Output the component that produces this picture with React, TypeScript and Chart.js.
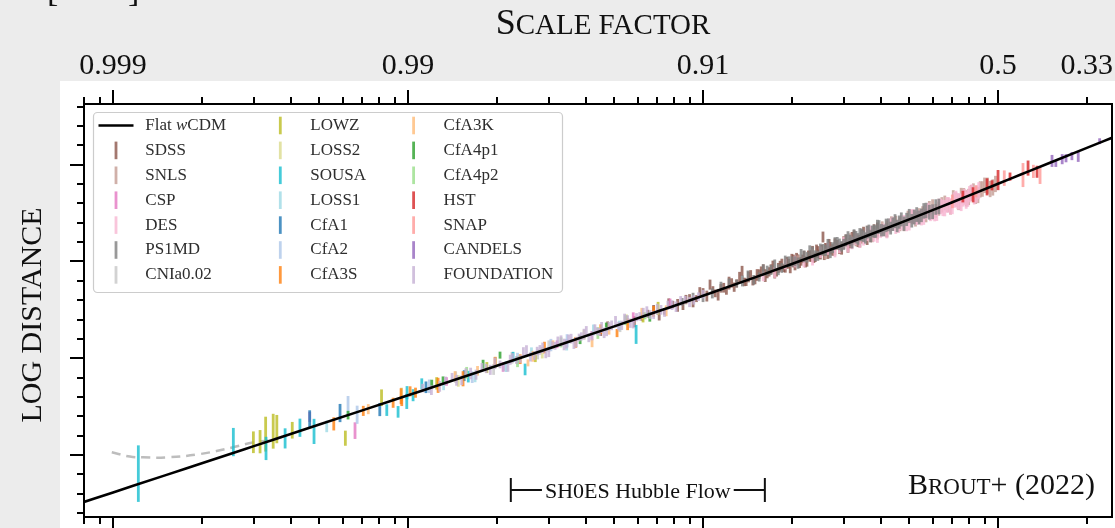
import React, { useEffect, useRef } from "react";
import { Chart, registerables } from "chart.js";

Chart.register(...registerables);

const W = 1115;
const H = 528;
const SERIF = '"Liberation Serif", "DejaVu Serif", serif';

// ---------- axes ----------
const Z_MIN = 0.000797;
const Z_MAX = 2.434;
const MU_MIN = 26.8;
const MU_MAX = 48.13;
const TOP_TICK_Z = [0.001, 0.01, 0.1, 1, 2];
const TOP_TICK_LABELS = ["0.999", "0.99", "0.91", "0.5", "0.33"];
const X_TITLE = ["S", "CALE FACTOR"];
const Y_TITLE = "LOG DISTANCE";
const CREDIT = ["B", "ROUT", "+ (2022)"];
const HUBBLE_FLOW_Z = [0.0223, 0.162];
const HUBBLE_FLOW_LABEL = "SH0ES Hubble Flow";

// ---------- model curve (Flat wCDM) ----------
const MODEL_LABEL = "Flat wCDM";
const MODEL_Z = [0.000797, 0.001, 0.0015, 0.002, 0.003, 0.004, 0.005, 0.007, 0.01, 0.014, 0.02, 0.03, 0.05, 0.07, 0.1, 0.15, 0.2, 0.3, 0.4, 0.5, 0.6, 0.7, 0.8, 1.0, 1.2, 1.5, 2.0, 2.434];
const MODEL_MU = [27.577, 28.07, 28.95, 29.578, 30.461, 31.087, 31.573, 32.307, 33.087, 33.823, 34.609, 35.506, 36.645, 37.41, 38.224, 39.175, 39.865, 40.864, 41.593, 42.17, 42.648, 43.056, 43.411, 44.009, 44.499, 45.098, 45.866, 46.385];

// ---------- grey dashed low-z curve ----------
const DASH_Z = [0.00099, 0.00114, 0.00126, 0.00152, 0.00197, 0.00255, 0.00298, 0.0034, 0.0038];
const DASH_MU = [30.14, 29.92, 29.88, 29.88, 30.05, 30.4, 30.65, 30.77, 30.975];

// ---------- survey data: [z, mu, sigma_mu] ----------
const SDSS = [
  [0.045, 36.31, 0.16], [0.055, 37.01, 0.18], [0.062, 37.09, 0.15], [0.068, 37.55, 0.2], [0.074, 37.42, 0.17],
  [0.079, 37.77, 0.19], [0.0855, 37.65, 0.16], [0.09, 38.11, 0.2], [0.095, 38.08, 0.18], [0.1, 38.4, 0.22],
  [0.1056, 38.8, 0.26], [0.11, 38.35, 0.2], [0.115, 38.61, 0.22], [0.12, 38.47, 0.19], [0.125, 38.89, 0.24],
  [0.13, 38.86, 0.21], [0.1356, 39.51, 0.26], [0.14, 38.93, 0.2], [0.145, 39.3, 0.25], [0.15, 39.04, 0.22],
  [0.155, 39.35, 0.24], [0.16, 39.58, 0.27], [0.165, 39.34, 0.21], [0.17, 39.6, 0.25], [0.175, 39.35, 0.23],
  [0.18, 39.66, 0.26], [0.185, 39.86, 0.28], [0.19, 39.64, 0.22], [0.195, 39.88, 0.25], [0.2, 40.09, 0.3],
  [0.205, 39.78, 0.24], [0.21, 40.09, 0.27], [0.215, 40.0, 0.22], [0.22, 40.26, 0.29], [0.225, 39.98, 0.25],
  [0.23, 40.27, 0.28], [0.235, 40.5, 0.3], [0.24, 40.21, 0.24], [0.245, 40.49, 0.3], [0.25, 40.36, 0.26],
  [0.255, 41.26, 0.28], [0.26, 40.65, 0.3], [0.265, 40.4, 0.27], [0.27, 40.68, 0.32], [0.28, 40.89, 0.3],
  [0.29, 40.66, 0.28], [0.3, 40.96, 0.33], [0.31, 40.75, 0.3], [0.32, 41.18, 0.34], [0.33, 41.13, 0.3],
  [0.34, 41.04, 0.32], [0.35, 41.44, 0.35], [0.37, 41.32, 0.33], [0.39, 41.65, 0.36], [0.42, 41.62, 0.38],
  [0.0475, 36.68, 0.22], [0.0585, 36.88, 0.28], [0.065, 37.3, 0.2], [0.071, 37.25, 0.3], [0.0765, 37.84, 0.25],
  [0.082, 37.73, 0.33], [0.0875, 38.03, 0.24], [0.0925, 37.9, 0.27], [0.0975, 38.45, 0.22], [0.103, 38.21, 0.28],
  [0.108, 38.52, 0.2], [0.1125, 38.28, 0.3], [0.1175, 38.64, 0.25], [0.1225, 38.88, 0.33], [0.1275, 38.67, 0.24],
  [0.133, 39.19, 0.27], [0.138, 38.94, 0.22], [0.1425, 39.2, 0.28], [0.1475, 38.96, 0.2], [0.1525, 39.3, 0.3],
  [0.1575, 39.49, 0.25], [0.1625, 39.27, 0.33], [0.1675, 39.46, 0.24], [0.1725, 39.77, 0.27], [0.1775, 39.44, 0.22],
  [0.1825, 39.75, 0.28], [0.1875, 39.65, 0.2], [0.1925, 39.93, 0.3], [0.1975, 39.64, 0.25], [0.2025, 40.02, 0.33],
  [0.2075, 40.2, 0.24], [0.2125, 39.93, 0.27], [0.2175, 40.13, 0.22], [0.2225, 39.97, 0.28], [0.2275, 40.36, 0.2],
  [0.2325, 40.28, 0.3], [0.2375, 40.17, 0.25], [0.2425, 40.54, 0.33], [0.2475, 40.37, 0.24], [0.2525, 40.58, 0.27],
  [0.2575, 40.29, 0.22], [0.2625, 40.64, 0.28], [0.2675, 40.86, 0.3], [0.275, 40.59, 0.3], [0.285, 40.86, 0.25],
  [0.295, 40.68, 0.33], [0.305, 41.09, 0.3], [0.315, 40.95, 0.27], [0.325, 41.29, 0.32], [0.335, 41.04, 0.3],
  [0.345, 41.3, 0.35], [0.36, 41.17, 0.32], [0.38, 41.56, 0.36],
];
const SNLS = [
  [0.21, 40.07, 0.25], [0.26, 40.39, 0.28], [0.3, 41.01, 0.3], [0.33, 41.06, 0.28], [0.36, 41.53, 0.32],
  [0.39, 41.43, 0.3], [0.42, 41.78, 0.34], [0.45, 42.04, 0.32], [0.48, 41.91, 0.35], [0.51, 42.32, 0.34],
  [0.54, 42.39, 0.36], [0.57, 42.37, 0.35], [0.6, 42.83, 0.38], [0.63, 42.72, 0.36], [0.66, 43.02, 0.38],
  [0.69, 42.82, 0.4], [0.72, 43.18, 0.38], [0.75, 43.4, 0.4], [0.78, 43.26, 0.42], [0.81, 43.54, 0.4],
  [0.84, 43.39, 0.42], [0.87, 43.72, 0.42], [0.9, 43.93, 0.4], [0.94, 43.74, 0.42], [0.98, 44.0, 0.42],
  [0.235, 40.38, 0.26], [0.28, 40.61, 0.3], [0.315, 41.17, 0.28], [0.345, 41.24, 0.33], [0.375, 41.29, 0.3],
  [0.405, 41.73, 0.34], [0.435, 42.01, 0.32], [0.465, 41.92, 0.36], [0.495, 42.28, 0.34], [0.525, 42.18, 0.38],
  [0.555, 42.5, 0.35], [0.585, 42.74, 0.38], [0.615, 42.61, 0.36], [0.645, 42.92, 0.4], [0.675, 42.92, 0.38],
  [0.705, 43.28, 0.4], [0.735, 43.07, 0.42], [0.765, 43.39, 0.4], [0.795, 43.33, 0.42], [0.825, 43.63, 0.4],
  [0.855, 43.43, 0.42], [0.885, 43.74, 0.4], [0.92, 43.91, 0.42], [0.96, 43.82, 0.42],
];
const CSP = [
  [0.00464, 31.97, 0.26], [0.00661, 31.26, 0.43], [0.0135, 33.8, 0.22], [0.021, 34.55, 0.25],
  [0.032, 35.72, 0.2], [0.042, 36.18, 0.22], [0.058, 37.12, 0.25], [0.0773, 37.82, 0.26],
];
const DES = [
  [0.16, 39.23, 0.25], [0.19, 39.86, 0.27], [0.22, 39.95, 0.26], [0.25, 40.47, 0.3], [0.28, 40.49, 0.28],
  [0.3, 40.96, 0.3], [0.32, 40.95, 0.32], [0.34, 41.0, 0.3], [0.36, 41.39, 0.34], [0.38, 41.34, 0.32],
  [0.4, 41.57, 0.35], [0.42, 41.52, 0.33], [0.44, 41.94, 0.36], [0.46, 41.81, 0.34], [0.48, 42.02, 0.38],
  [0.5, 41.95, 0.35], [0.52, 42.31, 0.38], [0.54, 42.27, 0.36], [0.56, 42.29, 0.4], [0.58, 42.64, 0.38],
  [0.6, 42.53, 0.4], [0.62, 42.49, 0.4], [0.64, 42.84, 0.4], [0.66, 42.75, 0.42], [0.68, 42.92, 0.4],
  [0.7, 42.86, 0.42], [0.72, 43.23, 0.42], [0.74, 43.1, 0.42], [0.76, 43.25, 0.42], [0.78, 43.16, 0.44],
  [0.8, 43.47, 0.42], [0.83, 43.39, 0.45], [0.86, 43.65, 0.44],
  [0.175, 39.43, 0.28], [0.205, 39.99, 0.3], [0.235, 40.06, 0.27], [0.265, 40.66, 0.32], [0.29, 40.72, 0.3],
  [0.31, 40.79, 0.33], [0.33, 41.15, 0.3], [0.35, 41.16, 0.34], [0.37, 41.52, 0.32], [0.39, 41.31, 0.35],
  [0.41, 41.62, 0.33], [0.43, 41.86, 0.36], [0.45, 41.76, 0.34], [0.47, 41.99, 0.38], [0.49, 41.92, 0.36],
  [0.51, 42.32, 0.38], [0.53, 42.24, 0.36], [0.55, 42.26, 0.4], [0.57, 42.55, 0.38], [0.59, 42.48, 0.4],
  [0.61, 42.45, 0.38], [0.63, 42.84, 0.4], [0.65, 42.76, 0.42], [0.67, 42.92, 0.4], [0.69, 42.84, 0.42],
  [0.71, 43.17, 0.4], [0.73, 43.11, 0.42], [0.75, 43.04, 0.44], [0.77, 43.33, 0.42], [0.79, 43.26, 0.44],
  [0.815, 43.56, 0.42], [0.845, 43.48, 0.45],
];
const PS1MD = [
  [0.085, 37.91, 0.2], [0.1, 38.12, 0.22], [0.115, 38.7, 0.25], [0.13, 38.86, 0.2], [0.142, 39.25, 0.28],
  [0.155, 39.2, 0.24], [0.165, 39.52, 0.26], [0.175, 39.8, 0.3], [0.185, 39.66, 0.25], [0.195, 39.98, 0.28],
  [0.205, 40.01, 0.26], [0.215, 40.34, 0.3], [0.225, 40.21, 0.27], [0.235, 40.46, 0.3], [0.245, 40.29, 0.26],
  [0.255, 40.61, 0.29], [0.265, 40.84, 0.32], [0.275, 40.71, 0.28], [0.285, 40.96, 0.3], [0.295, 40.78, 0.27],
  [0.305, 41.09, 0.31], [0.315, 41.09, 0.28], [0.325, 41.33, 0.33], [0.335, 41.16, 0.3], [0.345, 41.38, 0.32],
  [0.355, 41.21, 0.29], [0.365, 41.56, 0.34], [0.375, 41.55, 0.3], [0.385, 41.54, 0.32], [0.395, 41.78, 0.35],
  [0.41, 41.6, 0.3], [0.425, 41.89, 0.33], [0.44, 41.92, 0.35], [0.455, 41.83, 0.32], [0.47, 42.17, 0.36],
  [0.49, 42.17, 0.34], [0.51, 42.1, 0.35], [0.53, 42.42, 0.38], [0.55, 42.38, 0.35], [0.57, 42.63, 0.4],
  [0.6, 42.57, 0.38], [0.63, 42.84, 0.4],
  [0.0925, 38.16, 0.22], [0.1075, 38.35, 0.26], [0.1225, 38.88, 0.24], [0.136, 38.99, 0.28], [0.1485, 39.05, 0.25],
  [0.16, 39.55, 0.3], [0.17, 39.56, 0.26], [0.18, 39.57, 0.28], [0.19, 40.0, 0.3], [0.2, 39.99, 0.27],
  [0.21, 39.91, 0.29], [0.22, 40.26, 0.3], [0.23, 40.51, 0.32], [0.24, 40.29, 0.28], [0.25, 40.62, 0.3],
  [0.26, 40.57, 0.29], [0.27, 40.48, 0.31], [0.28, 40.93, 0.32], [0.29, 40.88, 0.3], [0.3, 40.88, 0.28],
  [0.31, 41.23, 0.33], [0.32, 40.97, 0.3], [0.33, 41.25, 0.32], [0.34, 41.38, 0.34], [0.35, 41.3, 0.3],
  [0.36, 41.51, 0.33], [0.37, 41.3, 0.31], [0.38, 41.56, 0.34], [0.39, 41.79, 0.36], [0.4025, 41.61, 0.32],
  [0.4175, 41.86, 0.35], [0.4325, 41.72, 0.33], [0.4475, 42.08, 0.36], [0.4625, 42.03, 0.34], [0.48, 41.95, 0.37],
  [0.5, 42.35, 0.36], [0.52, 42.29, 0.38], [0.54, 42.27, 0.36], [0.56, 42.61, 0.4], [0.585, 42.54, 0.38],
  [0.615, 42.81, 0.4],
];
const CNIA002 = [
  [0.0145, 34.02, 0.3], [0.0195, 34.42, 0.28], [0.0225, 35.02, 0.3], [0.0275, 35.2, 0.26], [0.03, 35.62, 0.3], [0.0523, 36.61, 0.26],
];
const LOWZ = [
  [0.00299, 30.66, 0.56], [0.00315, 30.69, 0.6], [0.00329, 31.08, 0.9], [0.00349, 31.23, 0.9], [0.00359, 31.34, 0.73],
  [0.00405, 31.28, 0.43], [0.00613, 30.87, 0.39], [0.00813, 32.96, 0.43], [0.0125, 33.7, 0.32], [0.0185, 34.52, 0.28],
  [0.027, 35.05, 0.25], [0.0626, 37.11, 0.26], [0.0704, 37.57, 0.34],
];
const LOSS2 = [
  [0.0095, 33.13, 0.35], [0.0148, 33.83, 0.3], [0.0198, 34.79, 0.28], [0.0285, 35.29, 0.3], [0.0395, 36.22, 0.25], [0.055, 36.98, 0.28],
];
const SOUSA = [
  [0.001218, 29.04, 1.46], [0.002557, 30.67, 0.73], [0.0033, 30.34, 0.6], [0.00383, 30.86, 0.52], [0.0043, 31.41, 0.47],
  [0.0048, 31.22, 0.65], [0.00847, 32.32, 0.3], [0.00925, 32.23, 0.3], [0.0099, 32.77, 0.39], [0.00992, 33.22, 0.34],
  [0.0104, 33.09, 0.31], [0.01113, 33.68, 0.28], [0.016, 34.05, 0.3], [0.0227, 35.07, 0.26], [0.02493, 34.42, 0.3],
  [0.0593, 36.23, 0.49],
];
const LOSS1 = [
  [0.0053, 31.48, 0.3], [0.0132, 33.6, 0.25], [0.01687, 34.02, 0.26], [0.0215, 34.57, 0.28], [0.0262, 35.31, 0.25],
  [0.0345, 35.7, 0.3], [0.0425, 36.46, 0.28], [0.052, 36.69, 0.25],
];
const CFA1 = [
  [0.00464, 31.88, 0.43], [0.00588, 32.17, 0.47], [0.00802, 32.35, 0.34], [0.0115, 33.5, 0.3], [0.0155, 34.1, 0.28],
];
const CFA2 = [
  [0.00626, 32.58, 0.47], [0.00672, 32.08, 0.47], [0.0118, 33.55, 0.35], [0.0165, 34.02, 0.3], [0.0235, 34.98, 0.3],
  [0.0305, 35.68, 0.32], [0.0346, 35.9, 0.34],
];
const CFA3S = [
  [0.0056, 31.61, 0.34], [0.00705, 32.28, 0.26], [0.0089, 32.7, 0.26], [0.00947, 33.04, 0.41], [0.00952, 32.79, 0.26],
  [0.01016, 33.29, 0.26], [0.0106, 33.22, 0.26], [0.01264, 33.6, 0.39], [0.01536, 33.94, 0.39], [0.01972, 34.86, 0.21],
  [0.024, 34.95, 0.25], [0.029, 35.55, 0.3], [0.037, 35.82, 0.28], [0.045, 36.5, 0.25], [0.0511, 36.3, 0.21],
  [0.0555, 36.75, 0.3], [0.068, 37.42, 0.28],
];
const CFA3K = [
  [0.00733, 32.37, 0.26], [0.01443, 34.07, 0.26], [0.0172, 34.35, 0.25], [0.0255, 34.76, 0.18], [0.0265, 35.1, 0.28],
  [0.031, 35.7, 0.22], [0.04205, 35.78, 0.21], [0.048, 36.48, 0.26], [0.062, 37.3, 0.3], [0.075, 37.45, 0.28],
];
const CFA4P1 = [
  [0.00626, 32.06, 0.22], [0.01203, 33.71, 0.18], [0.01314, 33.85, 0.21], [0.01796, 34.69, 0.23], [0.0205, 35.16, 0.18],
  [0.0383, 35.96, 0.23], [0.047, 36.62, 0.22], [0.066, 37.14, 0.25],
];
const CFA4P2 = [
  [0.0158, 34.25, 0.3], [0.0235, 34.82, 0.28], [0.033, 35.82, 0.26], [0.044, 36.3, 0.3], [0.0545, 36.97, 0.25], [0.0636, 37.19, 0.18],
];
const HST = [
  [0.76, 43.35, 0.3], [0.823, 43.44, 0.39], [0.918, 43.85, 0.44], [0.954, 43.93, 0.26], [1.0, 44.2, 0.52],
  [1.098, 44.38, 0.21], [1.264, 44.82, 0.39], [1.356, 44.63, 0.31],
];
const SNAP = [
  [0.7, 43.1, 0.35], [0.842, 43.62, 0.31], [1.05, 44.3, 0.4], [1.215, 44.46, 0.62], [1.318, 44.65, 0.34], [1.388, 44.44, 0.44],
];
const CANDELS = [
  [1.524, 45.19, 0.31], [1.57, 45.06, 0.18], [1.65, 45.28, 0.26], [1.7, 45.33, 0.21], [1.78, 45.44, 0.21], [1.87, 45.42, 0.28], [2.21, 46.21, 0.15],
];
const FOUNDATION = [
  [0.0112, 33.46, 0.22], [0.0128, 33.55, 0.28], [0.0141, 34.04, 0.2], [0.0152, 33.86, 0.25], [0.0163, 34.21, 0.3],
  [0.0178, 34.53, 0.22], [0.019, 34.4, 0.26], [0.0205, 34.68, 0.2], [0.0218, 34.58, 0.28], [0.0226, 35.02, 0.24],
  [0.024, 34.96, 0.2], [0.0252, 35.37, 0.3], [0.0268, 35.14, 0.22], [0.028, 35.43, 0.25], [0.0293, 35.27, 0.27],
  [0.0308, 35.67, 0.2], [0.0322, 35.88, 0.24], [0.0338, 35.71, 0.3], [0.035, 36.0, 0.22], [0.0365, 35.74, 0.26],
  [0.038, 36.07, 0.2], [0.0395, 36.24, 0.28], [0.041, 36.06, 0.23], [0.043, 36.5, 0.25], [0.0445, 36.36, 0.2],
  [0.0462, 36.31, 0.27], [0.048, 36.65, 0.22], [0.0505, 36.88, 0.3], [0.053, 36.7, 0.24], [0.0555, 37.02, 0.2],
  [0.058, 36.8, 0.26], [0.061, 37.16, 0.22], [0.0645, 37.4, 0.28], [0.068, 37.24, 0.21], [0.072, 37.5, 0.25],
  [0.076, 37.74, 0.23], [0.081, 37.66, 0.27], [0.087, 38.02, 0.2], [0.093, 38.01, 0.24], [0.1, 38.31, 0.22],
  [0.012, 33.35, 0.25], [0.0134, 33.83, 0.22], [0.0146, 33.86, 0.28], [0.0157, 34.28, 0.2], [0.017, 34.15, 0.26],
  [0.0184, 34.47, 0.24], [0.0197, 34.74, 0.3], [0.0211, 34.55, 0.22], [0.0222, 34.92, 0.26], [0.0233, 34.91, 0.2],
  [0.0246, 35.29, 0.28], [0.026, 35.07, 0.24], [0.0274, 35.37, 0.22], [0.0286, 35.54, 0.27], [0.03, 35.31, 0.25],
  [0.0315, 35.64, 0.2], [0.033, 35.9, 0.28], [0.0344, 35.73, 0.23], [0.0357, 36.01, 0.25], [0.0372, 35.83, 0.27],
  [0.0387, 36.13, 0.21], [0.0402, 36.4, 0.26], [0.042, 36.16, 0.24], [0.0437, 36.39, 0.2], [0.0453, 36.59, 0.28],
  [0.0471, 36.37, 0.23], [0.049, 36.7, 0.25], [0.0517, 36.66, 0.22], [0.0542, 37.03, 0.27], [0.0567, 36.81, 0.24],
  [0.0595, 37.12, 0.21], [0.0627, 37.34, 0.26], [0.0662, 37.25, 0.23], [0.07, 37.53, 0.28], [0.074, 37.36, 0.22],
  [0.0785, 37.74, 0.25], [0.084, 37.97, 0.24], [0.09, 37.9, 0.26], [0.0965, 38.18, 0.22],
];

const SURVEY_NAMES = ["SDSS", "SNLS", "CSP", "DES", "PS1MD", "CNIa0.02", "LOWZ", "LOSS2", "SOUSA", "LOSS1", "CfA1", "CfA2", "CfA3S", "CfA3K", "CfA4p1", "CfA4p2", "HST", "SNAP", "CANDELS", "FOUNDATION"];
const SURVEY_DATA = [SDSS, SNLS, CSP, DES, PS1MD, CNIA002, LOWZ, LOSS2, SOUSA, LOSS1, CFA1, CFA2, CFA3S, CFA3K, CFA4P1, CFA4P2, HST, SNAP, CANDELS, FOUNDATION];
const SURVEY_COLORS = ["#8c564b", "#c49c94", "#e377c2", "#f7b6d2", "#7f7f7f", "#c7c7c7", "#bcbd22", "#dbdb8d", "#17becf", "#9edae5", "#1f77b4", "#aec7e8", "#ff7f0e", "#ffbb78", "#2ca02c", "#98df8a", "#d62728", "#ff9896", "#9467bd", "#c5b0d5"];
const BAR_ALPHA = "cc";

function errRadius(ctx: any): number {
  const ys = ctx.chart.scales.y;
  const r = ctx.raw;
  if (!ys || !r || typeof r.e !== "number") return 0;
  return Math.abs(ys.getPixelForValue(r.y - r.e) - ys.getPixelForValue(r.y + r.e)) / 2;
}

function line(ctx: CanvasRenderingContext2D, x1: number, y1: number, x2: number, y2: number) {
  ctx.beginPath();
  ctx.moveTo(x1, y1);
  ctx.lineTo(x2, y2);
  ctx.stroke();
}

const decorPlugin = {
  id: "decor",
  beforeDraw(chart: any) {
    const ctx: CanvasRenderingContext2D = chart.ctx;
    ctx.save();
    ctx.fillStyle = "#ececec";
    ctx.fillRect(0, 0, W, H);
    ctx.fillStyle = "#ffffff";
    ctx.fillRect(60, 81, W - 60, H - 81);
    ctx.restore();
  },
  afterDraw(chart: any) {
    const ctx: CanvasRenderingContext2D = chart.ctx;
    const a = chart.chartArea;
    const xs = chart.scales.x;
    const ys = chart.scales.y;
    ctx.save();

    // frame
    ctx.strokeStyle = "#000";
    ctx.lineWidth = 2;
    ctx.strokeRect(a.left, a.top, a.right - a.left, a.bottom - a.top);

    // x ticks (top & bottom), log minor ticks
    for (let e = -4; e <= 0; e++) {
      for (let m = 1; m <= 9; m++) {
        const v = m * Math.pow(10, e);
        if (v < Z_MIN || v > Z_MAX) continue;
        const px = Math.round(xs.getPixelForValue(v));
        const len = m === 1 ? 14 : 7;
        line(ctx, px, a.top, px, a.top - len);
        line(ctx, px, a.bottom, px, a.bottom + len);
      }
    }
    // y ticks
    for (let v = Math.ceil(MU_MIN); v <= Math.floor(MU_MAX); v++) {
      const py = Math.round(ys.getPixelForValue(v));
      const len = v % 5 === 0 ? 14 : 7;
      line(ctx, a.left, py, a.left - len, py);
    }

    // legend
    const lx = a.left + 9;
    const ly = a.top + 8;
    const lw = 469;
    const lh = 180;
    ctx.beginPath();
    (ctx as any).roundRect(lx + 0.5, ly + 0.5, lw, lh, 4);
    ctx.fillStyle = "rgba(255,255,255,0.85)";
    ctx.fill();
    ctx.strokeStyle = "#cccccc";
    ctx.lineWidth = 1.2;
    ctx.stroke();
    const colMarker = [23, 187.3, 320.6];
    const colText = [52.3, 217.3, 350.6];
    const entries: { label: string; color: string; isLine: boolean }[] = [{ label: MODEL_LABEL, color: "#000", isLine: true }];
    SURVEY_NAMES.forEach((n, i) => entries.push({ label: n, color: SURVEY_COLORS[i] + BAR_ALPHA, isLine: false }));
    ctx.textBaseline = "middle";
    entries.forEach((en, k) => {
      const col = Math.floor(k / 7);
      const row = k % 7;
      const cy = ly + 13.5 + row * 24.9;
      const mx = lx + colMarker[col];
      if (en.isLine) {
        ctx.strokeStyle = "#000";
        ctx.lineWidth = 2.5;
        line(ctx, mx - 17.5, cy, mx + 17.5, cy);
      } else {
        ctx.strokeStyle = en.color;
        ctx.lineWidth = 2.8;
        line(ctx, mx, cy - 8.8, mx, cy + 8.8);
      }
      ctx.fillStyle = "#2e2e2e";
      const tx = lx + colText[col];
      if (en.label === MODEL_LABEL) {
        const parts = ["Flat ", "w", "CDM"];
        let x = tx;
        parts.forEach((p, i) => {
          ctx.font = (i === 1 ? "italic " : "") + "17px " + SERIF;
          ctx.textAlign = "left";
          ctx.fillText(p, x, cy);
          x += ctx.measureText(p).width;
        });
      } else {
        ctx.font = "17px " + SERIF;
        ctx.textAlign = "left";
        ctx.fillText(en.label, tx, cy);
      }
    });

    // SH0ES Hubble flow bracket
    const xl = xs.getPixelForValue(HUBBLE_FLOW_Z[0]);
    const xr = xs.getPixelForValue(HUBBLE_FLOW_Z[1]);
    const by = a.bottom - 27;
    ctx.font = "22px " + SERIF;
    ctx.textBaseline = "alphabetic";
    ctx.textAlign = "center";
    ctx.fillStyle = "#111";
    const tw = ctx.measureText(HUBBLE_FLOW_LABEL).width;
    const cx = (xl + xr) / 2;
    ctx.fillText(HUBBLE_FLOW_LABEL, cx, by + 8);
    ctx.strokeStyle = "#111";
    ctx.lineWidth = 2;
    line(ctx, xl, by - 12, xl, by + 12);
    line(ctx, xr, by - 12, xr, by + 12);
    line(ctx, xl, by, cx - tw / 2 - 3, by);
    line(ctx, cx + tw / 2 + 3, by, xr, by);

    // credit "BROUT+ (2022)"
    const big = "30px " + SERIF;
    const small = "23px " + SERIF;
    ctx.textAlign = "left";
    ctx.font = big;
    const w0 = ctx.measureText(CREDIT[0]).width;
    const w2 = ctx.measureText(CREDIT[2]).width;
    ctx.font = small;
    const w1 = ctx.measureText(CREDIT[1]).width;
    let cxs = a.right - 17 - (w0 + w1 + w2);
    const cb = a.bottom - 23;
    ctx.font = big;
    ctx.fillText(CREDIT[0], cxs, cb);
    cxs += w0;
    ctx.font = small;
    ctx.fillText(CREDIT[1], cxs, cb);
    cxs += w1;
    ctx.font = big;
    ctx.fillText(CREDIT[2], cxs, cb);

    // x title (small caps)
    const tBig = "36px " + SERIF;
    const tSmall = "29px " + SERIF;
    ctx.font = tBig;
    const s0 = ctx.measureText(X_TITLE[0]).width;
    ctx.font = tSmall;
    const s1 = ctx.measureText(X_TITLE[1]).width;
    const tx0 = 603 - (s0 + s1) / 2;
    ctx.font = tBig;
    ctx.fillText(X_TITLE[0], tx0, 34);
    ctx.font = tSmall;
    ctx.fillText(X_TITLE[1], tx0 + s0, 34);

    // y title
    ctx.save();
    ctx.translate(40.5, 315);
    ctx.rotate(-Math.PI / 2);
    ctx.font = "30px " + SERIF;
    ctx.textAlign = "center";
    ctx.fillText(Y_TITLE, 0, 0);
    ctx.restore();

    // cut-off brackets at the very top
    ctx.font = "34px " + SERIF;
    ctx.textAlign = "left";
    ctx.fillText("[", 47, 1);
    ctx.fillText("]", 128, 1);

    ctx.restore();
  },
};

export default function App() {
  const ref = useRef<HTMLCanvasElement>(null);
  useEffect(() => {
    const canvas = ref.current;
    if (!canvas) return;
    const datasets: any[] = [
      {
        type: "line",
        label: MODEL_LABEL,
        data: MODEL_Z.map((z, i) => ({ x: z, y: MODEL_MU[i] })),
        borderColor: "#000",
        borderWidth: 2.6,
        pointRadius: 0,
        cubicInterpolationMode: "monotone",
        fill: false,
        order: -2,
      },
      {
        type: "line",
        label: "",
        data: DASH_Z.map((z, i) => ({ x: z, y: DASH_MU[i] })),
        borderColor: "#bdbdbd",
        borderWidth: 2.5,
        borderDash: [9, 6],
        pointRadius: 0,
        tension: 0.4,
        fill: false,
        order: 30,
      },
    ];
    SURVEY_DATA.forEach((arr, i) => {
      const c = SURVEY_COLORS[i] + BAR_ALPHA;
      datasets.push({
        type: "scatter",
        label: SURVEY_NAMES[i],
        data: arr.map((p) => ({ x: p[0], y: p[1], e: p[2] })),
        pointStyle: "line",
        pointRotation: 90,
        pointRadius: errRadius,
        pointHoverRadius: errRadius,
        pointBorderWidth: 2.8,
        pointBorderColor: c,
        pointBackgroundColor: c,
        showLine: false,
        order: 20 - i,
      });
    });

    const chart = new Chart(canvas, {
      type: "scatter",
      data: { datasets },
      options: {
        responsive: false,
        animation: false,
        devicePixelRatio: 1,
        events: [],
        layout: { padding: { left: 0, top: 0, right: 3, bottom: 11 } },
        plugins: { legend: { display: false }, tooltip: { enabled: false } },
        scales: {
          x: {
            type: "logarithmic",
            position: "top",
            min: Z_MIN,
            max: Z_MAX,
            grid: { display: false, drawTicks: false },
            border: { display: false },
            afterBuildTicks: (s: any) => {
              s.ticks = TOP_TICK_Z.map((v) => ({ value: v }));
            },
            ticks: {
              autoSkip: false,
              maxRotation: 0,
              minRotation: 0,
              padding: 20,
              color: "#111",
              font: { family: SERIF, size: 30 },
              callback: (v: any) => {
                const i = TOP_TICK_Z.indexOf(Number(v));
                return i >= 0 ? TOP_TICK_LABELS[i] : "";
              },
            },
            afterFit: (s: any) => {
              s.height = 104;
              s.paddingLeft = 0;
              s.paddingRight = 0;
            },
          },
          y: {
            type: "linear",
            min: MU_MIN,
            max: MU_MAX,
            grid: { display: false, drawTicks: false },
            border: { display: false },
            ticks: { display: false },
            afterFit: (s: any) => {
              s.width = 84;
            },
          },
        },
      } as any,
      plugins: [decorPlugin],
    } as any);
    return () => chart.destroy();
  }, []);

  return (
    <div style={{ position: "fixed", left: 0, top: 0, width: W, height: H, background: "#ececec" }}>
      <canvas ref={ref} width={W} height={H} style={{ display: "block", width: W, height: H }} />
    </div>
  );
}
